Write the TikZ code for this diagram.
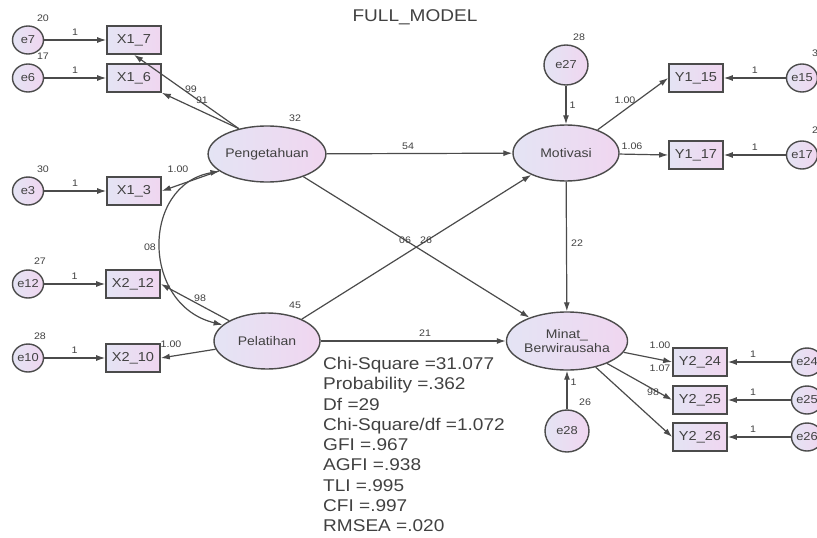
\documentclass[tikz,border=0pt]{standalone}
\usepackage{fontspec}
\setmainfont{Liberation Sans}[FakeStretch=1.12]
\usetikzlibrary{arrows.meta,shapes,positioning}
\definecolor{semline}{RGB}{75,75,75}
\definecolor{semtext}{RGB}{65,65,65}
\definecolor{lavleft}{RGB}{228,228,244}
\definecolor{lavright}{RGB}{240,214,240}

\tikzset{
  latent/.style={draw=semline,line width=1.4pt,ellipse,left color=lavleft,right color=lavright,inner sep=0pt,minimum width=106pt,minimum height=56pt,font=\fontsize{12.5}{14}\selectfont,text=semtext},
  observed/.style={draw=semline,line width=1.6pt,rectangle,minimum width=54pt,minimum height=28pt,left color=lavleft,right color=lavright,inner sep=0pt,font=\fontsize{13}{15}\selectfont,text=semtext},
  errvar/.style={latent,minimum width=31pt,minimum height=28pt,font=\fontsize{11.5}{13}\selectfont},
  coef/.style={font=\fontsize{9.5}{11}\selectfont,text=semtext,inner sep=0pt},
  reg/.style={draw=semline,line width=1.2pt,-{Latex[length=9pt,width=6pt]}},
  cov/.style={draw=semline,line width=1.2pt,{Latex[length=9pt,width=6pt]}-{Latex[length=9pt,width=6pt]}},
}

\begin{document}
\begin{tikzpicture}[x=1pt,y=-1pt]
        \useasboundingbox (0,0) rectangle (817,538);

        \node[font=\fontsize{17}{20}\selectfont,text=semtext] (title) at (415,17) {FULL\_MODEL};

        % latent variables
        \node[latent] (peng) at (267,154) {Pengetahuan};
        \node[latent] (pel) at (267,341) {Pelatihan};
        \node[latent] (mot) at (566,153) {Motivasi};
        \node[latent,align=center,minimum width=108pt,minimum height=58pt,font=\fontsize{12.5}{14}\selectfont] (minat) at (567,341) {Minat\_\\Berwirausaha};

        % indicators
        \node[observed] (x17) at (134,40) {X1\_7};
        \node[observed] (x16) at (134,78) {X1\_6};
        \node[observed] (x13) at (134,191) {X1\_3};
        \node[observed] (x212) at (133,284) {X2\_12};
        \node[observed] (x210) at (133,358) {X2\_10};
        \node[observed] (y115) at (696,78) {Y1\_15};
        \node[observed] (y117) at (696,155) {Y1\_17};
        \node[observed] (y224) at (700,362) {Y2\_24};
        \node[observed] (y225) at (700,400) {Y2\_25};
        \node[observed] (y226) at (700,437) {Y2\_26};

        % error terms
        \node[errvar] (e7) at (28,40) {e7};
        \node[errvar] (e6) at (28,78) {e6};
        \node[errvar] (e3) at (28,191) {e3};
        \node[errvar] (e12) at (28,284) {e12};
        \node[errvar] (e10) at (28,358) {e10};
        \node[errvar] (e15) at (802,78) {e15};
        \node[errvar] (e17) at (802,155) {e17};
        \node[errvar] (e24) at (807,362) {e24};
        \node[errvar] (e25) at (807,400) {e25};
        \node[errvar] (e26) at (807,437) {e26};
        \node[errvar,minimum width=44pt,minimum height=40pt] (e27) at (566,65) {e27};
        \node[errvar,minimum width=44pt,minimum height=42pt] (e28) at (567,431) {e28};

        % variances
        \node[coef] (v7) at (43,18) {20};
        \node[coef] (v6) at (43,56) {17};
        \node[coef] (v3) at (43,169) {30};
        \node[coef] (v12) at (40,261) {27};
        \node[coef] (v10) at (40,336) {28};
        \node[coef] (vpeng) at (295,118) {32};
        \node[coef] (vpel) at (295,305) {45};
        \node[coef] (v27) at (579,37) {28};
        \node[coef] (v28) at (585,402) {26};
        \node[coef] (v15) at (815,53) {3};
        \node[coef] (v17) at (815,130) {2};

        % error paths
        \draw[reg] (e7) -- node[coef,above=4pt] {1} (x17);
        \draw[reg] (e6) -- node[coef,above=4pt] {1} (x16);
        \draw[reg] (e3) -- node[coef,above=4pt] {1} (x13);
        \draw[reg] (e12) -- node[coef,above=4pt] {1} (x212);
        \draw[reg] (e10) -- node[coef,above=4pt] {1} (x210);
        \draw[reg] (e15) -- node[coef,above=4pt] {1} (y115);
        \draw[reg] (e17) -- node[coef,above=4pt] {1} (y117);
        \draw[reg] (e24) -- node[coef,above=4pt,pos=0.6] {1} (y224);
        \draw[reg] (e25) -- node[coef,above=4pt,pos=0.6] {1} (y225);
        \draw[reg] (e26) -- node[coef,above=4pt,pos=0.6] {1} (y226);
        \draw[reg] (e27) -- node[coef,right=3pt] {1} (mot);
        \draw[reg] (e28) -- node[coef,right=3pt,pos=0.7] {1} (minat);

        % loadings
        \draw[reg] (peng.138) -- (x17.south);
        \draw[reg] (peng.138) -- (x16.south east);
        \draw[reg] (peng) -- (x13.east);
        \draw[reg] (pel) -- (x212.east);
        \draw[reg] (pel) -- (x210.east);
        \draw[reg] (mot) -- (y115.west);
        \draw[reg] (mot) -- (y117.west);
        \draw[reg] (minat) -- (y224.west);
        \draw[reg] (minat) -- (y225.west);
        \draw[reg] (minat) -- (y226.west);
        \node[coef] (l99) at (191,89) {99};
        \node[coef] (l91) at (202,100) {91};
        \node[coef] (l13) at (178,169) {1.00};
        \node[coef] (l212) at (200,298) {98};
        \node[coef] (l210) at (171,344) {1.00};
        \node[coef] (l115) at (625,100) {1.00};
        \node[coef] (l117) at (632,146) {1.06};
        \node[coef] (l224) at (660,345) {1.00};
        \node[coef] (l225) at (660,368) {1.07};
        \node[coef] (l226) at (653,392) {98};

        % structural paths
        \draw[cov] (peng.200) .. controls (141,185) and (141,305) .. (pel.160);
        \node[coef] (c08) at (150,247) {08};
        \draw[reg] (peng) -- (mot);
        \draw[reg] (peng) -- (minat);
        \draw[reg] (pel) -- (mot);
        \draw[reg] (pel) -- (minat);
        \draw[reg] (mot) -- (minat);
        \node[coef] (b54) at (408,146) {54};
        \node[coef] (b06) at (405,240) {06};
        \node[coef] (b26) at (426,240) {26};
        \node[coef] (b21) at (425,333) {21};
        \node[coef] (b22) at (577,243) {22};

        % fit indices
        \node[anchor=north west,inner sep=0pt,align=left,text=semtext,font=\fontsize{17}{20.25}\selectfont] (fit) at (323,357) {Chi-Square =31.077\\Probability =.362\\Df =29\\Chi-Square/df =1.072\\GFI =.967\\AGFI =.938\\TLI =.995\\CFI =.997\\RMSEA =.020};
\end{tikzpicture}
\end{document}
